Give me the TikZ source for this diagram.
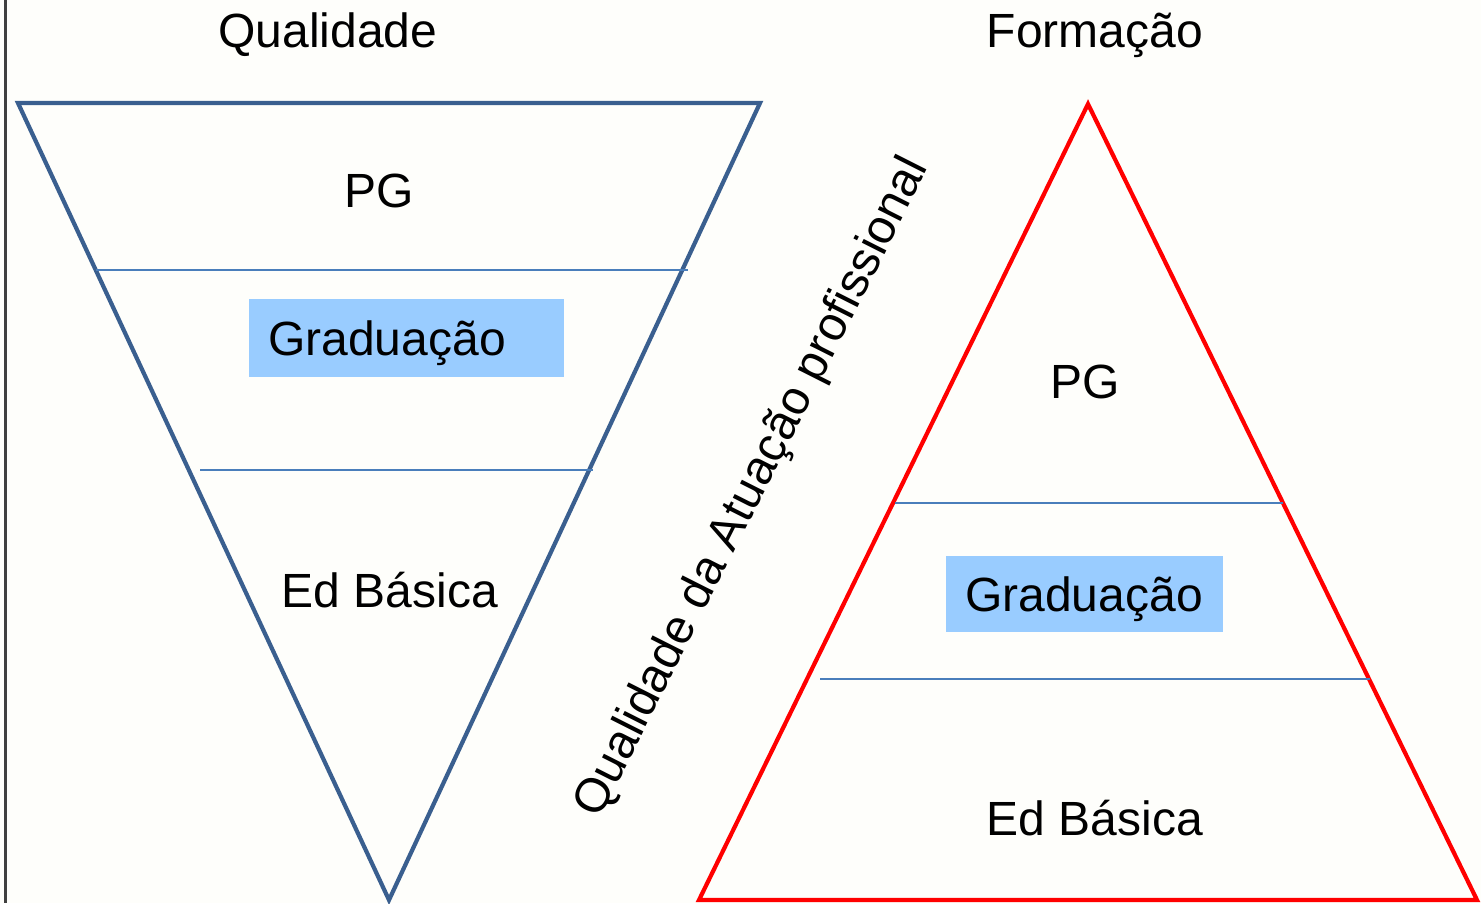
\documentclass[tikz,border=0pt]{standalone}
\usepackage{fontspec}
\setmainfont{Liberation Sans}
\definecolor{bgc}{HTML}{FEFEFB}
\definecolor{navy}{HTML}{3A5F8F}
\definecolor{thinblue}{HTML}{4A7EBB}
\definecolor{boxblue}{HTML}{99CCFF}
\definecolor{redl}{HTML}{FF0000}
\tikzset{
  lbl/.style={inner sep=0pt, font=\fontsize{48}{58}\selectfont, text=black},
  boxlbl/.style={lbl},
  tri/.style={line width=4.2pt, line join=miter},
  sep/.style={draw=thinblue, line width=1.5pt},
}
\begin{document}
\begin{tikzpicture}[x=1pt,y=-1pt]
\useasboundingbox (0,0) rectangle (1481,903);
\fill[bgc] (0,0) rectangle (1481,903);
\draw[gray!50!black, line width=3pt] (5,0) -- (5,903);
% left inverted triangle
\draw[tri, draw=navy] (18,103) -- (760,103) -- (389,900) -- cycle;
\draw[sep] (96,270) -- (688,270);
\draw[sep] (200,470) -- (593,470);
\fill[boxblue] (249,299) rectangle (564,377);
% right triangle
\draw[tri, draw=redl] (1088,104) -- (1477,900) -- (699,900) -- cycle;
\draw[sep] (895,503) -- (1283,503);
\draw[sep] (820,679) -- (1370,679);
\fill[boxblue] (946,556) rectangle (1223,632);
% labels
\node[lbl] (tq) at (328,35) {Qualidade};
\node[lbl] (tf) at (1095,35) {Formação};
\node[lbl] (lpg) at (379,191) {PG};
\node[boxlbl] (lgr) at (387,343) {Graduação};
\node[lbl] (led) at (390,590) {Ed Básica};
\node[lbl] (rpg) at (1085,382) {PG};
\node[boxlbl] (rgr) at (1084,599) {Graduação};
\node[lbl] (red) at (1095,818) {Ed Básica};
\node[lbl, rotate=63.2] (rot) at (753,488) {Qualidade da Atuação profissional};
\end{tikzpicture}
\end{document}
